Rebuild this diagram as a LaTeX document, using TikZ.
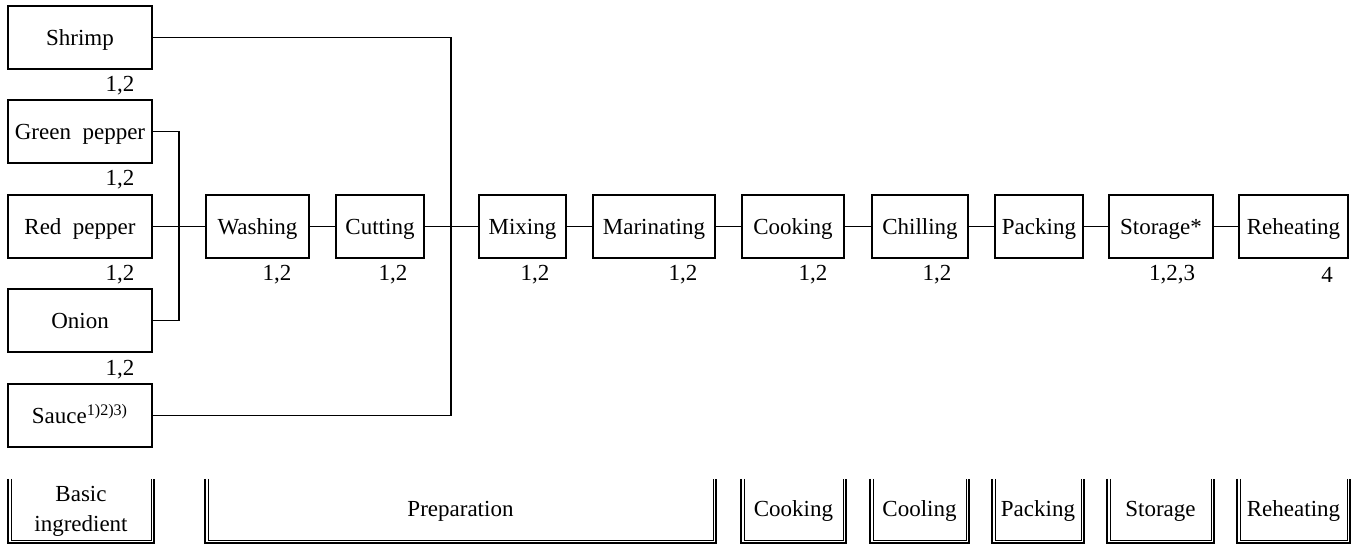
\documentclass[tikz,border=0pt]{standalone}
\usepackage{fontspec}
\setmainfont{Liberation Serif}
\usepackage{tikz}
\usetikzlibrary{calc}
\usetikzlibrary{positioning}

\tikzset{
  proc/.style={draw, black, line width=0.6pt, minimum height=31.5pt, inner sep=0pt,
    text height=9.5pt, text depth=1.2pt, font=\fontsize{11.5}{14}\selectfont},
  num/.style={inner sep=0pt, font=\fontsize{11.5}{14}\selectfont},
  stage/.style={align=center, inner sep=0pt, font=\fontsize{11.5}{15}\selectfont},
  link/.style={black, line width=0.6pt}
}
\newcommand{\wordgap}{\hspace{0.5em}}

\begin{document}
\begin{tikzpicture}[x=0.5pt, y=-0.5pt]
\useasboundingbox (0,0) rectangle (1357,544);

% ingredients
\foreach \name/\y/\txt in {shrimp/37.5/Shrimp, green/131.5/Green\wordgap pepper,
  red/226.5/Red\wordgap pepper, onion/320.5/Onion, sauce/415.5/Sauce\textsuperscript{1)2)3)}}
\node[proc, minimum width=72pt] (\name) at (80,\y) {\txt};

% process steps
\foreach \name/\x/\w/\txt in {wash/257.5/103/Washing, cut/380/88/Cutting,
  mix/522.5/87/Mixing, marinate/654/122/Marinating, cook/793/102/Cooking,
  chill/920/96/Chilling, pack/1039/88/Packing, store/1161/104/Storage*,
  reheat/1293.5/109/Reheating}
\node[proc, minimum width=\w*0.5pt] (\name) at (\x,226.5) {\txt};

\coordinate (join) at (179,226.5);
\coordinate (merge) at (451,226.5);

\draw[link] (green) -| (join) |- (onion);
\draw[link] (shrimp) -| (merge) |- (sauce);
\draw[link] (red) -- (wash);

\foreach \a/\b in {wash/cut, cut/mix, mix/marinate, marinate/cook, cook/chill,
  chill/pack, pack/store, store/reheat}
\draw[link] (\a) -- (\b);

% hazard numbers
\foreach \name/\x/\y/\txt in {shrimp/120/86/{1,2}, green/120/180/{1,2},
  red/120/275/{1,2}, onion/120/370/{1,2}, wash/277/275/{1,2}, cut/393/275/{1,2},
  mix/535/275/{1,2}, marinate/683/275/{1,2}, cook/813/275/{1,2},
  chill/937/275/{1,2}, store/1172/275/{1,2,3}, reheat/1327/275/{4}}
\node[num] (n\name) at (\x,\y) {\txt};

% stages
\foreach \name/\xa/\xb/\txt in {basic/8/154/{Basic\\ingredient}, prep/205/716/Preparation,
  cooking/741/846/Cooking, cooling/870/969/Cooling, packing/992/1084/Packing,
  storage/1107/1214/Storage, reheating/1237/1350/Reheating}
{
\draw[black, line width=0.8pt] (\xa,479) -- (\xa,543) -- (\xb,543) -- (\xb,479);
\draw[black, line width=0.4pt] (\xa+3,479) -- (\xa+3,540) -- (\xb-3,540) -- (\xb-3,479);
\node[stage] (\name) at ({(\xa+\xb)/2},511) {\txt};
}

\end{tikzpicture}
\end{document}
